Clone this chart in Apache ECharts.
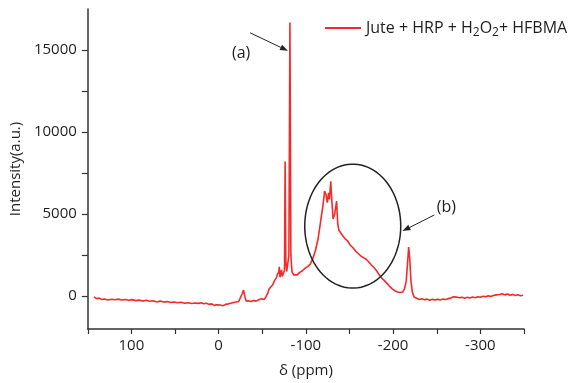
<!DOCTYPE html>
<html>
<head>
<meta charset="utf-8">
<script src="https://cdn.jsdelivr.net/npm/echarts@6/dist/echarts.min.js"></script>
<style>
  html, body { margin: 0; padding: 0; background: #fff; }
  #chart { width: 569px; height: 383px; }
</style>
</head>
<body>
<div id="chart"></div>
<script>
// chemical shift (ppm) and intensity
const shiftPpm = [
  143, 140, 137, 134, 131, 127, 123, 119, 115, 111, 107, 103, 99, 95, 91, 87, 83, 79, 75, 71,
  67, 63, 59, 55, 51, 47, 43, 39, 35, 31, 27, 23, 20, 17, 14, 11, 8, 5, 2, 0,
  -2, -5, -8, -11, -14, -17, -20, -23, -25, -27, -28.5, -30, -31.5, -34, -37, -40, -43, -46, -49, -52,
  -54, -56, -58, -60, -62, -64, -66, -67.5, -69, -69.5, -70.3, -72, -73, -74.5, -75.5, -76.2, -77, -78, -79.5, -80.5,
  -81.7, -82.8, -84, -86, -88, -90, -93, -96, -99, -102, -105, -108, -111, -114, -117, -119.5, -121.5, -123, -124.5, -126,
  -127, -128.5, -130, -131.2, -133, -135.2, -136.5, -138, -140, -142, -145, -148, -151, -154, -157, -160, -163, -166, -169, -172,
  -175, -178, -181, -184, -187, -190, -193, -196, -199, -202, -205, -208, -211, -213, -215, -216.5, -217.8, -219, -220.5, -222,
  -224, -227, -230, -233, -236, -239, -242, -245, -248, -251, -254, -257, -260, -263, -266, -269, -271, -273, -276, -279,
  -282, -285, -288, -291, -294, -297, -300, -303, -306, -309, -312, -315, -318, -320, -322, -325, -328, -331, -334, -337,
  -340, -343, -346, -349
];
const intensity = [
  -40, -150, -120, -200, -170, -230, -190, -220, -180, -230, -200, -250, -210, -270, -240, -300, -250, -310, -280, -350,
  -300, -360, -330, -390, -350, -400, -370, -430, -400, -450, -420, -440, -400, -460, -430, -500, -470, -560, -520, -600,
  -540, -580, -500, -470, -430, -380, -350, -320, -280, 150, 370, 0, -300, -280, -330, -270, -300, -220, -150, -200,
  -60, 150, 450, 500, 700, 950, 1100, 1350, 1500, 1790, 1150, 1600, 1200, 1250, 1600, 8200, 2200, 1500, 1600, 2500,
  16680, 2500, 1500, 1300, 1200, 1300, 1450, 1550, 1700, 1800, 1950, 2300, 2800, 3500, 4600, 5500, 6400, 6200, 5700, 6300,
  5900, 7000, 5600, 4700, 5000, 5800, 4400, 4000, 3850, 3700, 3500, 3350, 3100, 2950, 2750, 2600, 2450, 2350, 2250, 2100,
  1900, 1750, 1550, 1300, 1100, 950, 780, 600, 450, 330, 260, 220, 260, 450, 900, 2000, 3000, 2300, 900, 250,
  -50, -130, -200, -150, -220, -180, -250, -190, -230, -180, -240, -170, -200, -150, -120, -40, 60, -60, -100, -60,
  -120, -70, -110, -50, -90, -30, -70, 0, -40, 30, -20, 40, 80, 200, 100, 150, 80, 130, 60, 110,
  40, 90, 30, 60
];
const xLabelValues = [100, 0, -100, -200, -300];
const xTickValues = [150, 100, 50, 0, -50, -100, -150, -200, -250, -300, -350];
const yLabelValues = [0, 5000, 10000, 15000];
const yTickValues = [0, 2500, 5000, 7500, 10000, 12500, 15000];

const seriesName = 'Jute + HRP + H2O2+ HFBMA';
const font = '"Open Sans", sans-serif';
const ink = '#1e1e1e';

const chart = echarts.init(document.getElementById('chart'));

chart.setOption({
  animation: false,
  grid: { left: 86, right: 45, top: 9, bottom: 53 },
  legend: {
    left: 320,
    top: 15,
    icon: 'rect',
    itemWidth: 36,
    itemHeight: 2,
    data: [seriesName],
    formatter: () => '{n|Jute + HRP + H}{s|2}{n|O}{s|2}{n|+ HFBMA}',
    textStyle: {
      fontFamily: font,
      color: ink,
      rich: {
        n: { fontSize: 16, fontFamily: font, color: ink },
        s: { fontSize: 12, fontFamily: font, color: ink, padding: [10, 0, 0, 0] }
      }
    }
  },
  xAxis: {
    type: 'value',
    min: -350,
    max: 150,
    inverse: true,
    name: 'δ (ppm)',
    nameLocation: 'middle',
    nameGap: 34,
    nameTextStyle: { fontFamily: font, fontSize: 15, color: ink },
    splitLine: { show: false },
    axisLine: { onZero: false, lineStyle: { color: '#333', width: 1.5 } },
    axisTick: { customValues: xTickValues, length: 5, lineStyle: { color: '#333', width: 1.2 } },
    axisLabel: {
      customValues: xLabelValues,
      margin: 9,
      fontFamily: font,
      fontSize: 15,
      color: ink,
      formatter: (v) => String(v)
    }
  },
  yAxis: {
    type: 'value',
    min: -2000,
    max: 17500,
    name: 'Intensity(a.u.)',
    nameLocation: 'middle',
    nameGap: 64,
    nameTextStyle: { fontFamily: font, fontSize: 15, color: ink },
    splitLine: { show: false },
    axisLine: { show: true, onZero: false, lineStyle: { color: '#333', width: 1.5 } },
    axisTick: { show: true, customValues: yTickValues, length: 6, lineStyle: { color: '#333', width: 1.2 } },
    axisLabel: {
      customValues: yLabelValues,
      margin: 11,
      fontFamily: font,
      fontSize: 15,
      color: ink,
      formatter: (v) => String(v)
    }
  },
  series: [{
    name: seriesName,
    type: 'line',
    showSymbol: false,
    lineStyle: { color: '#f42a2a', width: 1.6 },
    itemStyle: { color: '#f42a2a' },
    data: shiftPpm.map((x, i) => [x, intensity[i]])
  }]
});

// annotations placed in data coordinates
const px = (p) => chart.convertToPixel({ gridIndex: 0 }, p);

function arrow(from, to) {
  const a = px(from), b = px(to);
  const ang = Math.atan2(b[1] - a[1], b[0] - a[0]);
  const L = 8, W = 3;
  const back = [b[0] - L * Math.cos(ang), b[1] - L * Math.sin(ang)];
  const nx = -Math.sin(ang) * W, ny = Math.cos(ang) * W;
  return [
    { type: 'line', shape: { x1: a[0], y1: a[1], x2: back[0], y2: back[1] }, style: { stroke: '#222', lineWidth: 1 } },
    { type: 'polygon', shape: { points: [b, [back[0] + nx, back[1] + ny], [back[0] - nx, back[1] - ny]] }, style: { fill: '#222' } }
  ];
}

const c = px([-153.7, 4270]);
const rx = 48, ry = 62;
const ellipsePts = [];
for (let k = 0; k < 90; k++) {
  const t = (k / 90) * Math.PI * 2;
  ellipsePts.push([c[0] + rx * Math.cos(t), c[1] + ry * Math.sin(t)]);
}

const la = px([-25.8, 14800]);
const lb = px([-261, 5430]);

chart.setOption({
  graphic: [
    { type: 'polygon', shape: { points: ellipsePts }, style: { fill: 'none', stroke: '#222', lineWidth: 1.5 }, z: 10 },
    ...arrow([-36, 16050], [-79.5, 14950]),
    ...arrow([-247.3, 4950], [-210.7, 3970]),
    { type: 'text', x: la[0], y: la[1], style: { text: '(a)', fontFamily: font, fontSize: 16, fill: ink, align: 'center', verticalAlign: 'middle' } },
    { type: 'text', x: lb[0], y: lb[1], style: { text: '(b)', fontFamily: font, fontSize: 16, fill: ink, align: 'center', verticalAlign: 'middle' } }
  ]
});
</script>
</body>
</html>
